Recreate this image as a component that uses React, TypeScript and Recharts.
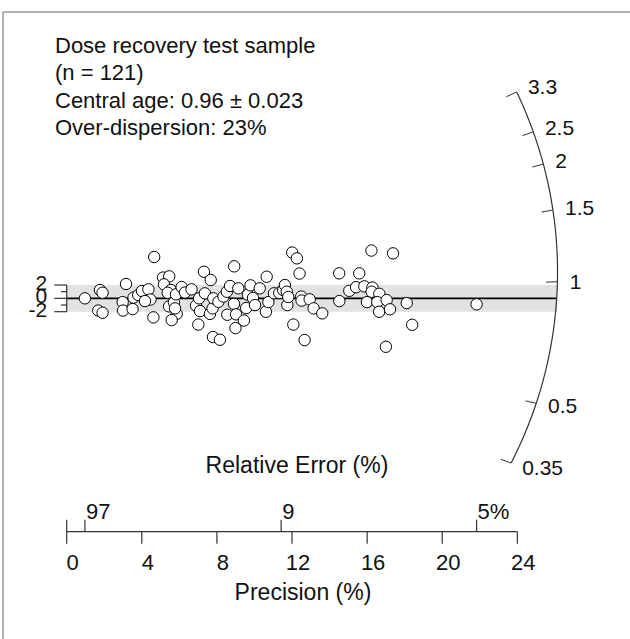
import { ScatterChart, Scatter, XAxis, YAxis, ReferenceLine, ReferenceArea } from 'recharts';

// precision of each aliquot (1 / relative error, %)
const precision = [
  0.97, 1.77, 1.91, 1.68, 1.91, 3.16, 2.98, 3.0, 3.51, 3.56,
  3.81, 4.01, 4.35, 4.46, 4.17, 4.62, 4.66, 5.13, 5.46, 5.18,
  5.55, 5.38, 5.45, 5.71, 5.86, 5.59, 5.82, 6.12, 6.3, 6.65,
  6.89, 7.05, 7.1, 7.01, 7.31, 7.67, 7.36, 7.63, 7.77, 7.81,
  7.79, 8.16, 8.08, 8.35, 8.53, 8.55, 8.7, 8.92, 8.91, 9.02,
  9.14, 8.99, 9.44, 9.56, 9.65, 9.79, 9.92, 10.03, 10.28, 10.65,
  10.61, 10.74, 11.04, 11.32, 11.53, 11.62, 11.72, 11.75, 11.8, 12.01,
  12.26, 12.4, 12.07, 12.49, 12.51, 12.67, 12.94, 13.15, 13.61, 14.51,
  14.52, 15.05, 15.41, 15.58, 15.85, 16.23, 16.28, 16.24, 15.99, 16.65,
  16.54, 17.04, 16.64, 17.22, 17.38, 18.11, 18.4, 17.0, 21.83, 5.77,
];

// standardised estimate of each aliquot
const stdEstimate = [
  0, 1.25, 0.84, -1.83, -2.16, 2.15, -0.56, -1.83, -1.61, 0.12,
  0.5, 1.1, 1.35, -0.18, -0.41, -2.85, 6.2, 3.12, 3.3, 2.1,
  1.25, 0.84, -1.2, -0.6, -2.33, -3.26, 0.6, 1.7, 0.87, 1.35,
  -1.08, 0, -1.91, -3.93, 3.99, 2.75, 0.75, -2.33, -1.5, 0,
  -5.81, -6.21, -0.51, 0.27, 0.99, -2.46, 1.85, 4.8, -0.83, -2.4,
  1.5, -4.46, -3.33, -1.46, 0.54, 1.95, 0.05, -1.01, 1.5, 3.24,
  -2.01, -0.56, 0.75, 0.8, 1.25, 2.0, 0.99, -1.01, 0.2, 6.87,
  6.0, 3.72, -3.93, 0.27, -0.33, -6.26, -0.15, -1.5, -2.25, 3.75,
  -0.41, 1.13, 1.67, 3.75, 1.8, 7.17, 1.62, 0.99, -0.56, 0.68,
  -0.56, -0.26, -2.01, -1.64, 6.75, -0.71, -3.96, -7.26, -0.89, -1.5,
];

const precisionTicks = [0, 4, 8, 12, 16, 20, 24];
const zTicks = [-2, -1, 0, 1, 2];

// relative error scale drawn on the precision axis
const relErrPos = [0, 0.97, 11.42, 21.83];
const relErrLabels = ['', '97', '9', '5%'];

// radial (De) scale
const radialLabels = ['3.3', '2.5', '2', '1.5', '1', '0.5', '0.35'];
const radialTickY = [30.95, 24.98, 20.15, 13.25, 2.49, -15.74, -24.7];

const infoLines = [
  'Dose recovery test sample',
  '(n = 121)',
  'Central age: 0.96 \u00b1 0.023',
  'Over-dispersion: 23%',
];

const FONT = '"Liberation Sans", Arial, Helvetica, sans-serif';
const AX = '#333';

// arc of the radial scale (data units)
const ARC = { cx: 3.93, cy: 3.97, rx: 22.21, ry: 62.5 };
const arcX = (y: number) => ARC.cx + ARC.rx * Math.sqrt(1 - ((y - ARC.cy) / ARC.ry) ** 2);

const points = precision.map((x, i) => ({ x, y: stdEstimate[i] }));

const yTop = radialTickY[0];
const yBot = radialTickY[radialTickY.length - 1];
const arcPts: { x: number; y: number }[] = [];
for (let i = 0; i <= 90; i++) {
  const y = yBot + ((yTop - yBot) * i) / 90;
  arcPts.push({ x: arcX(y), y });
}

const radialTicks = radialTickY.map((y, i) => {
  const x = arcX(y);
  return { x, y, label: radialLabels[i] };
});
const radialLabelPts = radialTicks.map((t) => ({ x: t.x * 1.025, y: t.y * 1.025, label: t.label }));

const relErrPts = relErrPos.map((x, i) => ({ x, y: -35, label: relErrLabels[i] }));

const Dot = (props: any) => (
  <circle cx={props.cx} cy={props.cy} r={5.7} fill="#fff" stroke="#000" strokeWidth={1} />
);

const PrecTick = (props: any) => {
  const { x, y, payload } = props;
  return (
    <g>
      <line x1={x} y1={y} x2={x} y2={y + 12} stroke={AX} strokeWidth={1.2} />
      <text x={x + 6} y={y + 38} textAnchor="middle" fontSize={22} fontFamily={FONT} fill="#111">
        {payload.value}
      </text>
    </g>
  );
};

const ZTick = (props: any) => {
  const { x, y, payload } = props;
  const v = payload.value;
  const major = v % 2 === 0;
  return (
    <g>
      <line x1={x - (major ? 12.4 : 5.7)} y1={y} x2={x} y2={y} stroke={AX} strokeWidth={1.2} />
      {major && (
        <text x={x - 19.5} y={y - 2.5} textAnchor="end" dominantBaseline="central" fontSize={21} fontFamily={FONT} fill="#111">
          {v}
        </text>
      )}
    </g>
  );
};

const RelErrMark = (props: any) => {
  const { cx, cy, payload } = props;
  return (
    <g>
      <line x1={cx} y1={cy} x2={cx} y2={cy - 12} stroke={AX} strokeWidth={1.2} />
      <text x={cx + 1} y={cy - 12.5} fontSize={22} fontFamily={FONT} fill="#111">
        {payload.label}
      </text>
    </g>
  );
};

const RadialLabel = (props: any) => {
  const { cx, cy, payload } = props;
  return (
    <text x={cx} y={cy} dominantBaseline="central" fontSize={21} fontFamily={FONT} fill="#111">
      {payload.label}
    </text>
  );
};

const Nothing = () => <g />;

export default function App() {
  const lineEnd = arcX(0);
  const bandEnd = arcX(2);
  return (
    <div style={{ position: 'absolute', left: 0, top: 0, width: 630, height: 639, background: '#fff' }}>
      <ScatterChart width={630} height={639} margin={{ top: 65, right: 0, bottom: 0, left: 0 }}>
        <XAxis
          type="number"
          dataKey="x"
          domain={[0, 30]}
          ticks={precisionTicks}
          height={107.3}
          axisLine={false}
          tickLine={false}
          tickSize={0}
          tickMargin={0}
          tick={<PrecTick />}
          interval={0}
        />
        <YAxis
          type="number"
          dataKey="y"
          domain={[-35, 35]}
          ticks={zTicks}
          width={66.7}
          axisLine={false}
          tickLine={false}
          tickSize={0}
          tickMargin={0}
          tick={<ZTick />}
          interval={0}
        />
        <ReferenceArea x1={0} x2={bandEnd} y1={-2} y2={2} fill="#e2e2e2" fillOpacity={1} stroke="none" ifOverflow="visible" />
        <ReferenceLine segment={[{ x: 0, y: 0 }, { x: lineEnd, y: 0 }]} stroke="#000" strokeWidth={1.6} ifOverflow="visible" />
        <ReferenceLine segment={[{ x: 0, y: -2 }, { x: 0, y: 2 }]} stroke={AX} strokeWidth={1.2} ifOverflow="visible" />
        <ReferenceLine segment={[{ x: 0, y: -35 }, { x: 24, y: -35 }]} stroke={AX} strokeWidth={1.2} ifOverflow="visible" />
        {radialTicks.map((t) => (
          <ReferenceLine
            key={t.label}
            segment={[{ x: t.x, y: t.y }, { x: t.x * 0.977, y: t.y * 0.977 }]}
            stroke={AX}
            strokeWidth={1}
            ifOverflow="visible"
          />
        ))}
        <Scatter data={arcPts} line={{ stroke: AX, strokeWidth: 1.2 }} shape={<Nothing />} isAnimationActive={false} />
        <Scatter data={points} shape={<Dot />} isAnimationActive={false} />
        <Scatter data={relErrPts} shape={<RelErrMark />} isAnimationActive={false} />
        <Scatter data={radialLabelPts} shape={<RadialLabel />} isAnimationActive={false} />
      </ScatterChart>
      <svg
        width={630}
        height={639}
        style={{ position: 'absolute', left: 0, top: 0, pointerEvents: 'none' }}
      >
        <line x1={3} y1={12} x2={630} y2={12} stroke="#999" strokeWidth={1.5} />
        <line x1={3} y1={12} x2={3} y2={639} stroke="#999" strokeWidth={1.5} />
        {infoLines.map((s, i) => (
          <text key={s} x={55} y={53 + i * 27.3} fontSize={22} fontFamily={FONT} fill="#111">
            {s}
          </text>
        ))}
        <text x={297} y={473} textAnchor="middle" fontSize={23} fontFamily={FONT} fill="#111">
          Relative Error (%)
        </text>
        <text x={303} y={600} textAnchor="middle" fontSize={23} fontFamily={FONT} fill="#111">
          Precision (%)
        </text>
      </svg>
    </div>
  );
}
